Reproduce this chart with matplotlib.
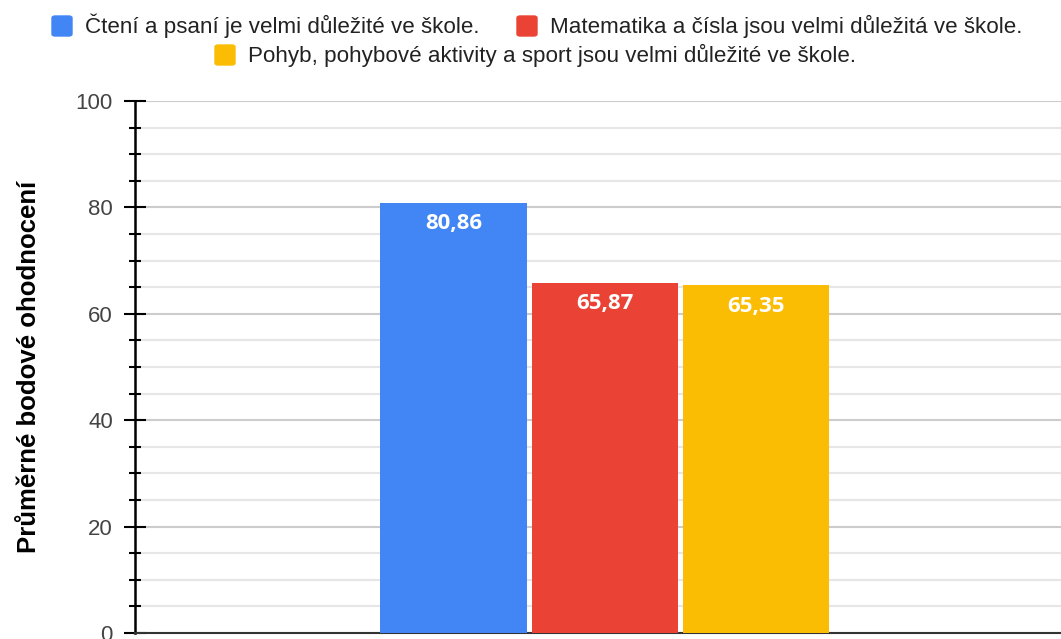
import matplotlib.pyplot as plt
from matplotlib.patches import FancyBboxPatch
from matplotlib.ticker import MultipleLocator

# data
categories = ["Čtení a psaní je velmi důležité ve škole.",
              "Matematika a čísla jsou velmi důležitá ve škole.",
              "Pohyb, pohybové aktivity a sport jsou velmi důležité ve škole."]
values = [80.86, 65.87, 65.35]
colors = ["#4285F4", "#EA4335", "#FBBC04"]
y_label = "Průměrné bodové ohodnocení"

plt.rcParams['font.family'] = ['Liberation Sans', 'DejaVu Sans']

fig = plt.figure(figsize=(10.61, 6.39), dpi=100)
ax = fig.add_axes([135 / 1061, 6 / 639, 1 - 135 / 1061, (633 - 101) / 639])

xs = [-1, 0, 1]
ax.bar(xs, values, width=0.97, color=colors, zorder=3)
for x, v in zip(xs, values):
    ax.annotate(f"{v:.2f}".replace(".", ","), xy=(x, v), xytext=(0, -15),
                textcoords="offset points", ha="center", va="center",
                color="white", fontsize=16, fontweight="bold",
                family=["Open Sans", "DejaVu Sans"], zorder=4)

ax.set_xlim(-3.11, 3.02)
ax.set_ylim(0, 100)
ax.set_xticks([])
ax.yaxis.set_major_locator(MultipleLocator(20))
ax.yaxis.set_minor_locator(MultipleLocator(5))
ax.grid(which="major", axis="y", color="#cccccc", linewidth=1.5, zorder=0)
ax.grid(which="minor", axis="y", color="#e6e6e6", linewidth=1.5, zorder=0)
ax.tick_params(axis="y", which="major", direction="inout", length=16, width=1.5,
               labelsize=16, labelcolor="#444444", pad=8)
ax.tick_params(axis="y", which="minor", direction="inout", length=8.5, width=1.5)
for s in ["top", "right"]:
    ax.spines[s].set_visible(False)
ax.spines["left"].set_linewidth(1.8)
ax.spines["bottom"].set_linewidth(1.5)
ax.spines["bottom"].set_color("#333333")
ax.set_ylabel(y_label, fontsize=18.5, fontweight="bold")
ax.yaxis.set_label_coords(-94 / 926, 0.5)

# legend drawn by hand: two rows
legend_pos = [(52, 26), (517, 26), (215, 55)]
for (px, py), lab, c in zip(legend_pos, categories, colors):
    sq = FancyBboxPatch(((px) / 1061, (639 - py - 10) / 639), 20 / 1061, 20 / 639,
                        boxstyle="round,pad=0,rounding_size=0.003",
                        transform=fig.transFigure, color=c, figure=fig)
    fig.patches.append(sq)
    fig.text((px + 33) / 1061, (639 - py) / 639, lab, fontsize=16.1,
             color="#222222", va="center", ha="left")

fig.savefig("out.png", dpi=100)
